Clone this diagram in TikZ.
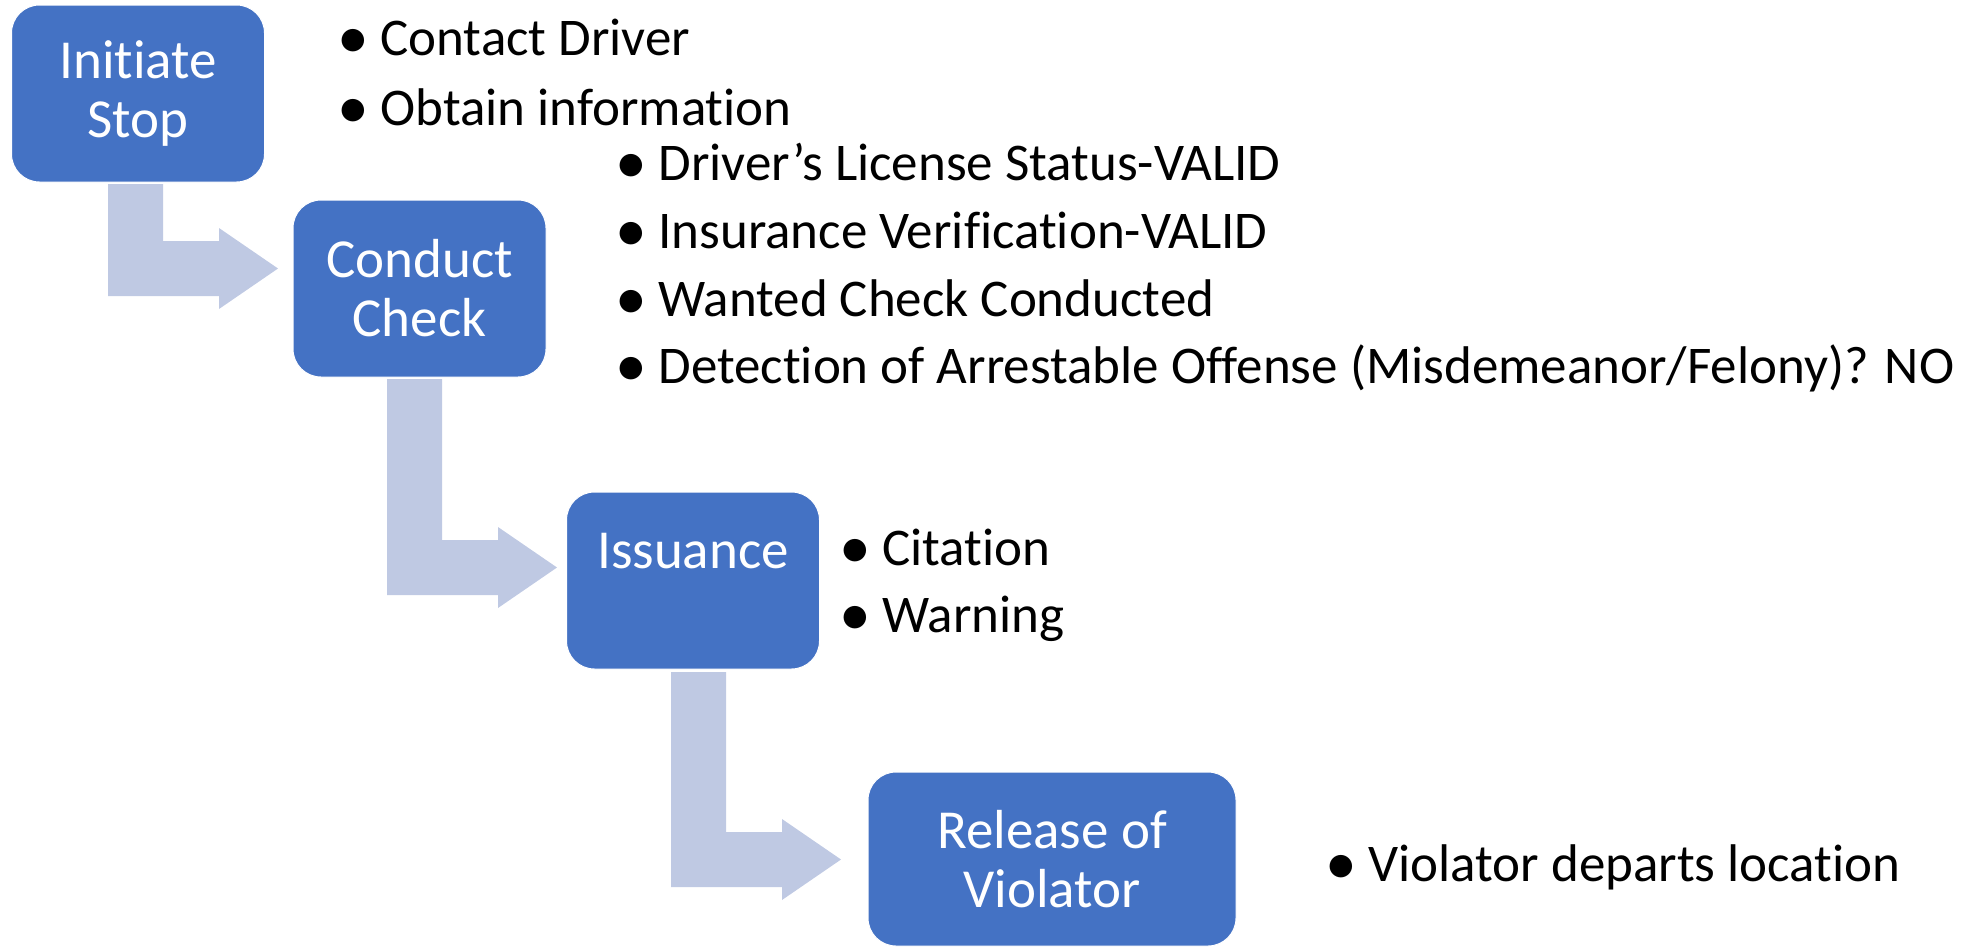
\documentclass[tikz,border=0pt]{standalone}
\usepackage{fontspec}
\setmainfont{Carlito}[Ligatures=NoCommon]
\usetikzlibrary{positioning}
\definecolor{boxblue}{HTML}{4472C4}
\definecolor{bendblue}{HTML}{BFC9E3}
\newcommand\bul{\makebox[21.5pt][l]{\raisebox{-1.6pt}{\scalebox{1.2}{•}}}}
% bent arrow: shaft left x, shaft top y, bottom of the bar y
\newcommand\bendarrow[3]{%
  \fill[bendblue] (#1,#2) -- ++(55,0) -- ({#1+55},{#3-55}) -- ++(56,0) -- ++(0,-13)
    -- ++(59,40.5) -- ++(-59,40.5) -- ++(0,-13) -- (#1,#3) -- cycle;}

\begin{document}
\begin{tikzpicture}[x=0.5pt,y=-0.5pt,
  stepbox/.style={rounded corners=14pt,fill=boxblue,draw=white,line width=0.5pt,
    text=white,align=center,inner sep=0pt,minimum width=126.5pt,minimum height=88.5pt,
    font=\fontsize{27.5}{29.5}\selectfont},
  item/.style={anchor=base west,inner sep=0pt,font=\fontsize{26.5}{34}\selectfont}]
\useasboundingbox (0,0) rectangle (1964,948);

% arrows behind the boxes
\bendarrow{108}{184}{296}
\bendarrow{387}{379}{595}
\bendarrow{671}{672}{887}

% process steps
\node[stepbox] (init) at (138,93.5) {Initiate\\Stop};
\node[stepbox] (check) at (419.5,288.5) {Conduct\\Check};
\node[stepbox] (issue) at (693,580.5) {Issuance\\\phantom{I}};
\node[stepbox,minimum width=184pt,minimum height=87pt] (release) at (1052,859) {Release of\\Violator};

% bullet texts
\node[item] (contact) at (337,55) {\bul Contact Driver};
\node[item] (obtain) at (337,125) {\bul Obtain information};
\node[item] (license) at (615,180) {\bul Driver’s License Status-VALID};
\node[item] (insur) at (615,248) {\bul Insurance Verification-VALID};
\node[item] (wanted) at (615,316) {\bul Wanted Check Conducted};
\node[item] (detect) at (615,383) {\bul Detection of Arrestable Offense (Misdemeanor/Felony)? NO};
\node[item] (citation) at (839,565) {\bul Citation};
\node[item] (warning) at (839,632) {\bul Warning};
\node[item] (departs) at (1325,881) {\bul Violator departs location};
\end{tikzpicture}
\end{document}
